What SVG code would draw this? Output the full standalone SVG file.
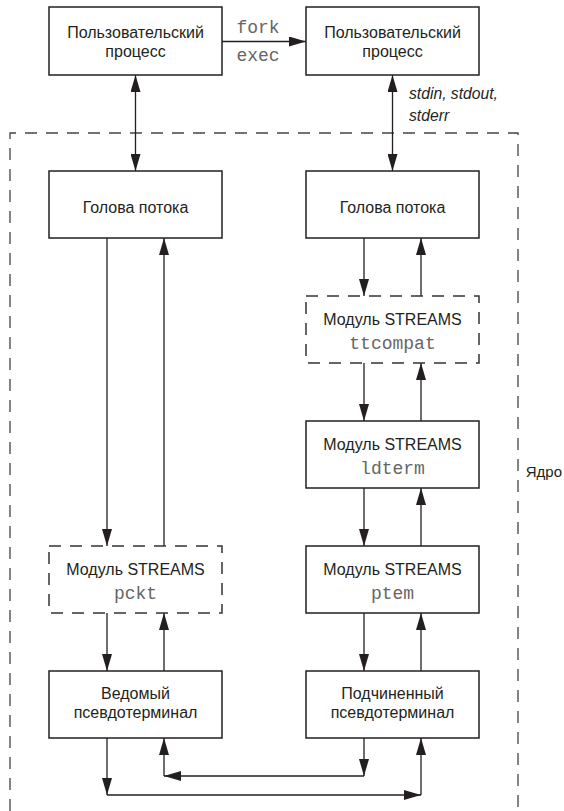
<svg xmlns="http://www.w3.org/2000/svg" width="564" height="811" viewBox="0 0 564 811">
<style>
.box{fill:#fff;stroke:#231f20;stroke-width:1.5}
.dbox{fill:#fff;stroke:#333;stroke-width:1.5;stroke-dasharray:12 9}
.t{font-family:"Liberation Sans",Arial,sans-serif;font-size:16px;fill:#231f20;text-anchor:middle}
.m{font-family:"Liberation Mono","Courier New",monospace;font-size:18px;fill:#666;text-anchor:middle}
.i{font-family:"Liberation Sans",Arial,sans-serif;font-size:15.7px;font-style:italic;fill:#231f20}
.k{font-family:"Liberation Sans",Arial,sans-serif;font-size:15px;fill:#231f20;text-anchor:end}
.c{fill:none;stroke:#231f20;stroke-width:1.3}
.a{marker-end:url(#ah)}
.aa{marker-end:url(#ah);marker-start:url(#ah)}
.kern{fill:none;stroke:#444;stroke-width:1.3;stroke-dasharray:12 9}
</style>
<defs>
<marker id="ah" viewBox="0 0 17 10" refX="17" refY="5" markerWidth="17" markerHeight="10" markerUnits="userSpaceOnUse" orient="auto-start-reverse">
<path d="M0,0 L17,5 L0,10 z" fill="#231f20"/>
</marker>
</defs>

<g id="kernel">
<path class="kern" d="M10,811 V133 H518 V811"/>
<text class="k" x="562" y="477">Ядро</text>
</g>

<g id="connectors">
<line class="c a" x1="222" y1="41.5" x2="306" y2="41.5"/>
<text class="m" x="258" y="33">fork</text>
<text class="m" x="258" y="60.5">exec</text>
<line class="c aa" x1="135.5" y1="75" x2="135.5" y2="171"/>
<line class="c aa" x1="392.5" y1="75" x2="392.5" y2="171"/>
<text class="i" x="409" y="99">stdin, stdout,</text>
<text class="i" x="409" y="120.5">stderr</text>

<line class="c a" x1="107" y1="238" x2="107" y2="546"/>
<line class="c a" x1="164" y1="546" x2="164" y2="238"/>
<line class="c a" x1="107" y1="613" x2="107" y2="671"/>
<line class="c a" x1="164" y1="671" x2="164" y2="613"/>

<line class="c a" x1="364" y1="238" x2="364" y2="296"/>
<line class="c a" x1="421" y1="296" x2="421" y2="238"/>
<line class="c a" x1="364" y1="363" x2="364" y2="421"/>
<line class="c a" x1="421" y1="421" x2="421" y2="363"/>
<line class="c a" x1="364" y1="488" x2="364" y2="546"/>
<line class="c a" x1="421" y1="546" x2="421" y2="488"/>
<line class="c a" x1="364" y1="613" x2="364" y2="671"/>
<line class="c a" x1="421" y1="671" x2="421" y2="613"/>

<line class="c a" x1="107" y1="738" x2="107" y2="795"/>
<line class="c a" x1="107" y1="795" x2="421" y2="795"/>
<line class="c a" x1="421" y1="795" x2="421" y2="738"/>
<line class="c a" x1="364" y1="738" x2="364" y2="776"/>
<line class="c a" x1="364" y1="776" x2="164" y2="776"/>
<line class="c a" x1="164" y1="776" x2="164" y2="738"/>
</g>

<g id="proc1">
<rect class="box" x="49" y="7" width="173" height="68"/>
<text class="t" x="135.5" y="37.5">Пользовательский</text>
<text class="t" x="135.5" y="56.5">процесс</text>
</g>
<g id="proc2">
<rect class="box" x="306" y="7" width="173" height="68"/>
<text class="t" x="392.5" y="37.5">Пользовательский</text>
<text class="t" x="392.5" y="56.5">процесс</text>
</g>
<g id="head1">
<rect class="box" x="49" y="171" width="173" height="67"/>
<text class="t" x="135.5" y="213">Голова потока</text>
</g>
<g id="head2">
<rect class="box" x="306" y="171" width="173" height="67"/>
<text class="t" x="392.5" y="213">Голова потока</text>
</g>
<g id="ttcompat">
<rect class="dbox" x="306" y="296" width="173" height="67"/>
<text class="t" x="392.5" y="324.5">Модуль STREAMS</text>
<text class="m" x="392.5" y="348.5">ttcompat</text>
</g>
<g id="ldterm">
<rect class="box" x="306" y="421" width="173" height="67"/>
<text class="t" x="392.5" y="449.5">Модуль STREAMS</text>
<text class="m" x="392.5" y="474">ldterm</text>
</g>
<g id="pckt">
<rect class="dbox" x="49" y="546" width="173" height="67"/>
<text class="t" x="135.5" y="575">Модуль STREAMS</text>
<text class="m" x="135.5" y="599">pckt</text>
</g>
<g id="ptem">
<rect class="box" x="306" y="546" width="173" height="67"/>
<text class="t" x="392.5" y="575">Модуль STREAMS</text>
<text class="m" x="392.5" y="599">ptem</text>
</g>
<g id="master">
<rect class="box" x="49" y="671" width="173" height="67"/>
<text class="t" x="135.5" y="699">Ведомый</text>
<text class="t" x="135.5" y="718">псевдотерминал</text>
</g>
<g id="slave">
<rect class="box" x="306" y="671" width="173" height="67"/>
<text class="t" x="392.5" y="699">Подчиненный</text>
<text class="t" x="392.5" y="718">псевдотерминал</text>
</g>
</svg>
